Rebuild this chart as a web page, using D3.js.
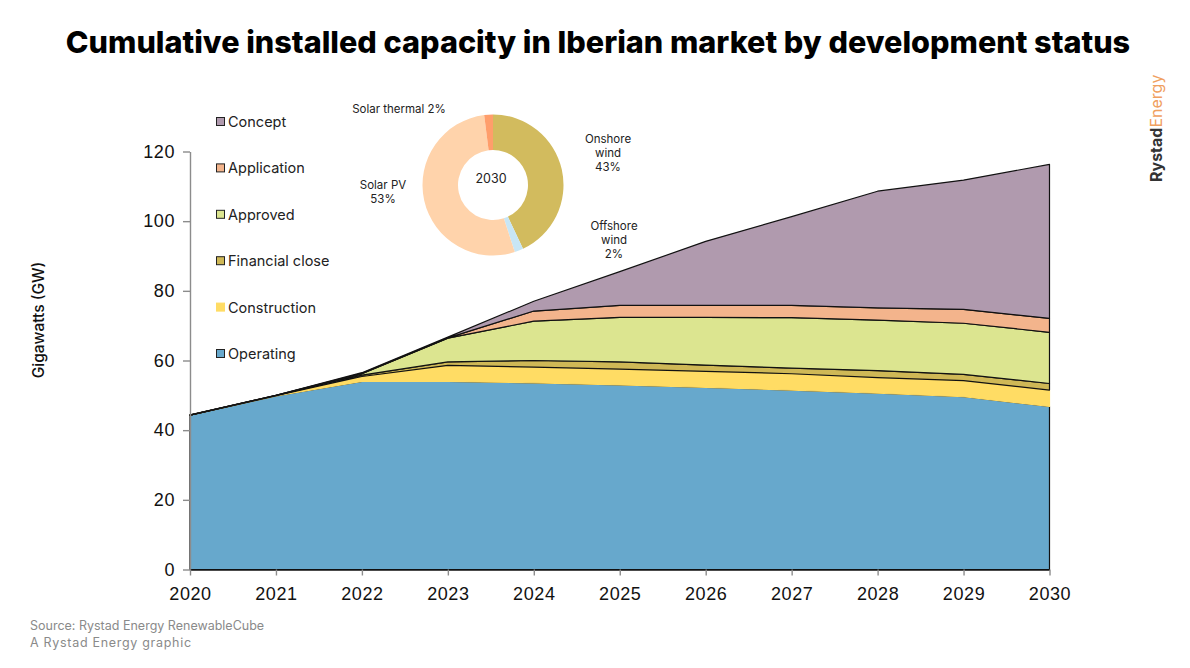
<!DOCTYPE html>
<html>
<head>
<meta charset="utf-8">
<script src="https://cdn.jsdelivr.net/npm/d3@7"></script>
<style>
  html, body { margin: 0; padding: 0; background: #fff; }
  svg { display: block; font-family: Inter, "Liberation Sans", sans-serif; }
  .axis path, .axis line { stroke: #8c8c8c; stroke-width: 1.4; }
  .axis text { font-size: 18px; fill: #111; letter-spacing: 0.6px; }
</style>
</head>
<body>
<svg id="chart" width="1190" height="668"></svg>
<script>
const years = [2020, 2021, 2022, 2023, 2024, 2025, 2026, 2027, 2028, 2029, 2030];
const yTicks = [0, 20, 40, 60, 80, 100, 120];

// GW added by each status on top of the one below it
const operating = [44.3, 49.8, 54.0, 54.0, 53.6, 53.0, 52.3, 51.5, 50.6, 49.6, 46.8];
const construction = [0, 0.1, 1.4, 4.6, 4.5, 4.5, 4.6, 4.7, 4.5, 4.6, 4.7];
const financialClose = [0, 0.05, 0.4, 1.0, 1.9, 2.1, 1.8, 1.6, 2.0, 1.8, 1.9];
const approved = [0, 0.05, 0.4, 6.8, 11.3, 12.8, 13.7, 14.5, 14.5, 14.7, 14.7];
const application = [0, 0, 0.1, 0.1, 2.9, 3.4, 3.4, 3.5, 3.5, 4.0, 4.0];
const concept = [0.1, 0, 0.2, 0.2, 2.8, 9.7, 18.4, 25.5, 33.5, 37.1, 44.2];

const seriesNames = ["Operating", "Construction", "Financial close", "Approved", "Application", "Concept"];
const seriesValues = [operating, construction, financialClose, approved, application, concept];
const seriesFill = ["#67a8cc", "#ffdc64", "#cfb856", "#dce590", "#f3b48c", "#b09aae"];
const seriesStroke = ["#111", "#ffdc64", "#111", "#111", "#111", "#111"];

const donutNames = ["Onshore wind", "Offshore wind", "Solar PV", "Solar thermal"];
const donutValues = [43, 2, 53, 2];
const donutFill = ["#d2bb5e", "#c8e6f5", "#ffd3ab", "#ff9e6b"];

const svg = d3.select("#chart");

const x = d3.scaleLinear().domain([2020, 2030]).range([190, 1049.5]);
const y = d3.scaleLinear().domain([0, 120]).range([569.5, 151.5]);

svg.append("text")
  .attr("x", 598).attr("y", 53)
  .attr("text-anchor", "middle")
  .style("font-size", "30.6px")
  .style("font-weight", 800)
  .style("fill", "#000")
  .text("Cumulative installed capacity in Iberian market by development status");

// stacked areas
const rows = years.map((year, i) => {
  const row = { year };
  seriesNames.forEach((name, s) => { row[name] = seriesValues[s][i]; });
  return row;
});
const layers = d3.stack().keys(seriesNames)(rows);
const area = d3.area()
  .x(d => x(d.data.year))
  .y0(d => y(d[0]))
  .y1(d => y(d[1]));

svg.append("g").selectAll("path")
  .data(layers)
  .join("path")
  .attr("d", area)
  .attr("fill", (d, i) => seriesFill[i])
  .attr("stroke", (d, i) => seriesStroke[i])
  .attr("stroke-width", 1.2)
  .attr("stroke-linejoin", "round");

// axes
const yAxis = svg.append("g")
  .attr("class", "axis")
  .attr("transform", `translate(${x(2020)},0)`)
  .call(d3.axisLeft(y).tickValues(yTicks).tickFormat(d3.format("d")).tickSize(7).tickSizeOuter(0).tickPadding(8));
const xAxis = svg.append("g")
  .attr("class", "axis")
  .attr("transform", `translate(0,${y(0)})`)
  .call(d3.axisBottom(x).tickValues(years).tickFormat(d3.format("d")).tickSize(6).tickSizeOuter(0).tickPadding(12));
xAxis.select(".domain").style("stroke", "#111");
yAxis.select(".domain").lower();

svg.append("text")
  .attr("transform", "translate(44,320) rotate(-90)")
  .attr("text-anchor", "middle")
  .style("font-size", "15.5px")
  .style("font-weight", 500)
  .style("fill", "#111")
  .text("Gigawatts (GW)");

// legend, Concept on top
const legendY = d3.scalePoint().domain(seriesNames).range([354, 122]);
const legend = svg.append("g").selectAll("g")
  .data(seriesNames)
  .join("g")
  .attr("transform", d => `translate(216,${legendY(d)})`);
legend.append("rect")
  .attr("x", 0.5).attr("y", -4.5)
  .attr("width", 8).attr("height", 8)
  .attr("fill", (d, i) => seriesFill[i])
  .attr("stroke", (d, i) => i === 1 ? seriesFill[i] : "#222")
  .attr("stroke-width", 1);
legend.append("text")
  .attr("x", 12).attr("y", 5)
  .style("font-size", "14.5px")
  .style("fill", "#222")
  .text(d => d);

// 2030 donut
const donut = svg.append("g").attr("transform", "translate(493,185)");
const arc = d3.arc().innerRadius(35).outerRadius(70.5);
donut.selectAll("path")
  .data(d3.pie().sort(null)(donutValues))
  .join("path")
  .attr("d", arc)
  .attr("fill", (d, i) => donutFill[i]);
donut.append("text")
  .attr("x", -2).attr("y", -2)
  .attr("text-anchor", "middle")
  .style("font-size", "12.5px")
  .style("fill", "#222")
  .text("2030");

const donutLabels = [
  { lines: ["Solar thermal 2%"], cx: 399, cy: 113 },
  { lines: ["Onshore", "wind", "43%"], cx: 608, cy: 143 },
  { lines: ["Solar PV", "53%"], cx: 383, cy: 188.5 },
  { lines: ["Offshore", "wind", "2%"], cx: 614, cy: 230 }
];
donutLabels.forEach(label => {
  const t = svg.append("text")
    .attr("text-anchor", "middle")
    .style("font-size", "11.5px")
    .style("fill", "#222");
  label.lines.forEach((line, i) => {
    t.append("tspan").attr("x", label.cx).attr("y", label.cy + i * 14).text(line);
  });
});

// brand mark
const brand = svg.append("text")
  .attr("transform", "translate(1162,182) rotate(-90)")
  .style("font-size", "16px");
brand.append("tspan").style("font-weight", 700).style("fill", "#333").text("Rystad");
brand.append("tspan").style("fill", "#f0a060").text("Energy");

// footer
svg.append("text").attr("x", 30).attr("y", 630)
  .style("font-size", "12.5px").style("fill", "#8a8a8a")
  .text("Source: Rystad Energy RenewableCube");
svg.append("text").attr("x", 30).attr("y", 647)
  .style("font-size", "12.5px").style("letter-spacing", "0.7px").style("fill", "#8a8a8a")
  .text("A Rystad Energy graphic");
</script>
</body>
</html>
